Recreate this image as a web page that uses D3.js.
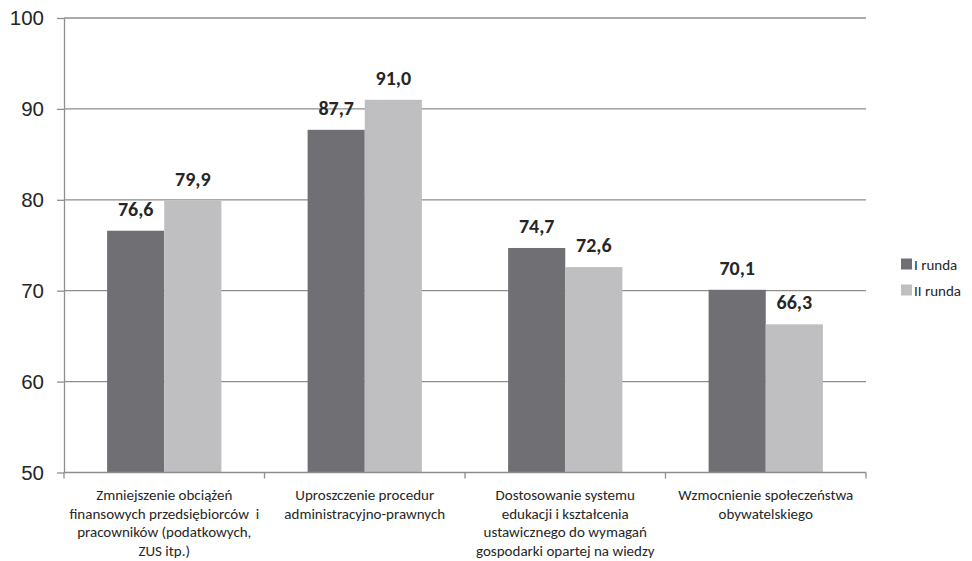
<!DOCTYPE html>
<html><head><meta charset="utf-8">
<script src="https://cdn.jsdelivr.net/npm/d3@7"></script>
<style>
body{margin:0;background:#fff;}
svg{display:block;font-family:Carlito,Lato,"Liberation Sans",sans-serif;}
</style></head>
<body>
<svg id="chart" width="972" height="561"></svg>
<script>
const categories = [
  "Zmniejszenie obciążeń\nfinansowych przedsiębiorców  i\npracowników (podatkowych,\nZUS itp.)",
  "Uproszczenie procedur\nadministracyjno-prawnych",
  "Dostosowanie systemu\nedukacji i kształcenia\nustawicznego do wymagań\ngospodarki opartej na wiedzy",
  "Wzmocnienie społeczeństwa\nobywatelskiego"
];
const seriesNames = ["I runda", "II runda"];
const runda1 = [76.6, 87.7, 74.7, 70.1];
const runda2 = [79.9, 91.0, 72.6, 66.3];
const yTicks = [50, 60, 70, 80, 90, 100];
const colors = ["#707074", "#bfbfc1"];

const svg = d3.select("#chart");
const m = {left: 64, right: 106, top: 18, bottom: 88.5};
const W = 972, H = 561;
const x0 = d3.scaleBand().domain(categories).range([m.left, W - m.right]).paddingInner(0.43).paddingOuter(0.215);
const x1 = d3.scaleBand().domain(seriesNames).range([0, x0.bandwidth()]);
const y = d3.scaleLinear().domain([50, 100]).range([H - m.bottom, m.top]);
const fmt = v => v.toFixed(1).replace(".", ",");

// gridlines
svg.append("g").selectAll("line").data(yTicks.slice(1)).join("line")
  .attr("x1", m.left).attr("x2", W - m.right)
  .attr("y1", d => y(d)).attr("y2", d => y(d))
  .attr("stroke", "#8e8e8e").attr("stroke-width", 1.3);

// bars
const data = categories.map((c, i) => ({c, vals: [runda1[i], runda2[i]]}));
const g = svg.append("g").selectAll("g").data(data).join("g")
  .attr("transform", d => `translate(${x0(d.c)},0)`);
g.selectAll("rect").data(d => d.vals.map((v, j) => ({v, s: seriesNames[j], j}))).join("rect")
  .attr("x", d => x1(d.s)).attr("width", x1.bandwidth())
  .attr("y", d => y(d.v)).attr("height", d => y(50) - y(d.v))
  .attr("fill", d => colors[d.j]);
g.selectAll("text").data(d => d.vals.map((v, j) => ({v, s: seriesNames[j], j}))).join("text")
  .attr("x", d => x1(d.s) + x1.bandwidth() / 2).attr("y", d => y(d.v) - 15)
  .attr("text-anchor", "middle").attr("font-weight", "bold").attr("font-size", 20)
  .attr("fill", "#262626").text(d => fmt(d.v));

// y axis
const ya = svg.append("g").attr("transform", `translate(${m.left},0)`)
  .call(d3.axisLeft(y).tickValues(yTicks).tickSize(7).tickSizeOuter(0).tickPadding(13));
ya.select(".domain").attr("stroke", "#8e8e8e").attr("stroke-width", 1.3);
ya.selectAll(".tick line").attr("stroke", "#8e8e8e").attr("stroke-width", 1.3);
ya.selectAll(".tick text").attr("font-size", 20.5).attr("fill", "#262626").attr("font-family", "inherit");

// x axis
const xa = svg.append("g").attr("transform", `translate(0,${y(50)})`);
xa.append("line").attr("x1", m.left).attr("x2", W - m.right).attr("stroke", "#8e8e8e").attr("stroke-width", 1.3);
const step = x0.step();
const bounds = categories.map(c => x0(c) - x0.paddingInner() * step / 2).concat([W - m.right]);
xa.selectAll("line.t").data(bounds).join("line").attr("class", "t")
  .attr("x1", d => d).attr("x2", d => d).attr("y1", 0).attr("y2", 6)
  .attr("stroke", "#8e8e8e").attr("stroke-width", 1.3);
xa.selectAll("text").data(categories).join("text")
  .attr("text-anchor", "middle").attr("font-size", 15).attr("fill", "#262626")
  .attr("transform", d => `translate(${x0(d) + x0.bandwidth() / 2},0)`)
  .each(function(d) {
    const t = d3.select(this);
    d.split("\n").forEach((line, i) => {
      t.append("tspan").attr("x", 0).attr("y", 27.5 + i * 18.7).attr("xml:space", "preserve").text(line);
    });
  });

// legend
const lg = svg.append("g").attr("transform", "translate(901,264)");
seriesNames.forEach((s, i) => {
  const r = lg.append("g").attr("transform", `translate(0,${i * 26})`);
  r.append("rect").attr("x", 0).attr("y", -5.5).attr("width", 11).attr("height", 11).attr("fill", colors[i]);
  r.append("text").attr("x", 13).attr("y", 5.5).attr("font-size", 15).attr("fill", "#262626").text(s);
});
</script>
</body></html>
